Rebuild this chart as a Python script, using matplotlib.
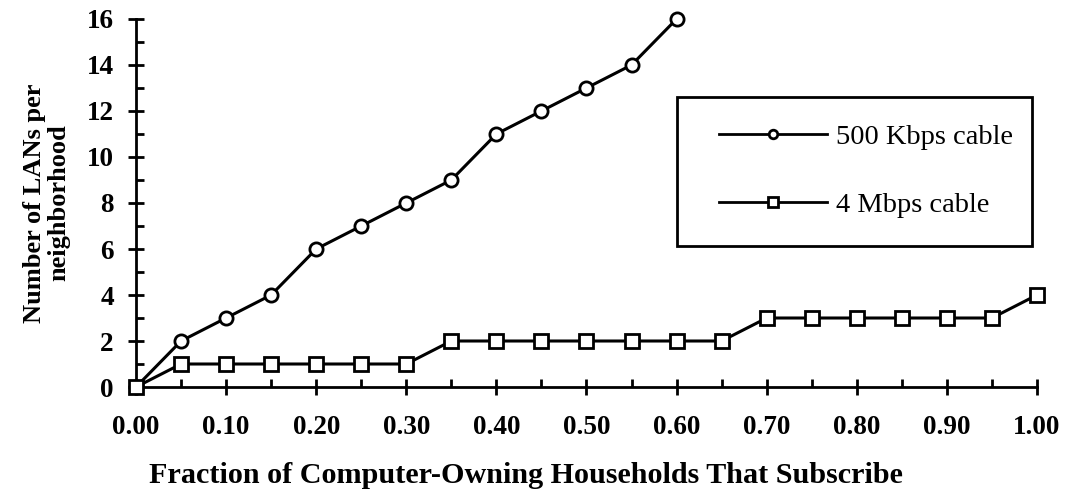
import numpy as np
import matplotlib
matplotlib.use("Agg")
from matplotlib import pyplot as plt
from matplotlib.patches import Rectangle
from matplotlib.ticker import MultipleLocator

plt.rcParams['font.family'] = ['Liberation Serif', 'DejaVu Serif']

# subscription fraction (x) and LANs needed per neighborhood
frac_500k = [0.00, 0.05, 0.10, 0.15, 0.20, 0.25, 0.30, 0.35, 0.40, 0.45, 0.50, 0.55, 0.60]
lans_500k = [0, 2, 3, 4, 6, 7, 8, 9, 11, 12, 13, 14, 16]

frac_4m = [0.00, 0.05, 0.10, 0.15, 0.20, 0.25, 0.30, 0.35, 0.40, 0.45, 0.50,
           0.55, 0.60, 0.65, 0.70, 0.75, 0.80, 0.85, 0.90, 0.95, 1.00]
lans_4m = [0, 1, 1, 1, 1, 1, 1, 2, 2, 2, 2, 2, 2, 2, 3, 3, 3, 3, 3, 3, 4]

xticks = [0.0, 0.1, 0.2, 0.3, 0.4, 0.5, 0.6, 0.7, 0.8, 0.9, 1.0]
yticks = [0, 2, 4, 6, 8, 10, 12, 14, 16]

tickSize = 19.5
xlabelSize = 21.7
ylabelSize = 19
legendSize = 20.5

fig = plt.figure(figsize=(10.65, 4.92), dpi=100)
ax = fig.add_axes([0.1277, 0.2134, 0.846, 0.748])

ax.plot(frac_500k, lans_500k, color='k', linewidth=2.2, marker='o',
        markersize=9.5, markerfacecolor='white', markeredgewidth=2.0,
        label='500 Kbps cable', clip_on=False, zorder=3)
ax.plot(frac_4m, lans_4m, color='k', linewidth=2.2, marker='s',
        markersize=10, markerfacecolor='white', markeredgewidth=2.0,
        label='4 Mbps cable', clip_on=False, zorder=3)

ax.set_xlim(0, 1.0)
ax.set_ylim(0, 16)
ax.set_xticks(xticks)
ax.set_xticklabels(['%.2f' % v for v in xticks])
ax.set_yticks(yticks)
ax.xaxis.set_minor_locator(MultipleLocator(0.05))
ax.yaxis.set_minor_locator(MultipleLocator(1))

for s in ['top', 'right']:
    ax.spines[s].set_visible(False)
for s in ['left', 'bottom']:
    ax.spines[s].set_linewidth(2.0)

ax.tick_params(which='major', direction='inout', length=12, width=2.0)
ax.tick_params(which='minor', direction='in', length=6, width=2.0)
ax.tick_params(axis='x', which='major', pad=14, labelsize=tickSize)
ax.tick_params(axis='y', which='major', pad=10, labelsize=tickSize)
for lab in ax.get_xticklabels() + ax.get_yticklabels():
    lab.set_fontweight('bold')

ax.set_xlabel('Fraction of Computer-Owning Households That Subscribe',
              fontsize=xlabelSize, fontweight='bold')
ax.xaxis.set_label_coords(0.433, -0.205)
ax.set_ylabel('Number of LANs per\nneighborhood', fontsize=ylabelSize,
              fontweight='bold', labelpad=12, linespacing=1.05)

# legend box drawn separately so the entries can sit off-centre inside it
box = Rectangle((0.600, 0.383), 0.394, 0.405, transform=ax.transAxes,
                facecolor='white', edgecolor='k', linewidth=2.0,
                clip_on=False, zorder=4)
ax.add_patch(box)
leg = ax.legend(loc='upper left', bbox_to_anchor=(0.647, 0.715),
                fontsize=legendSize, frameon=False,
                numpoints=1, handlelength=3.8, handletextpad=0.32,
                borderpad=0, labelspacing=1.5, markerscale=0.65,
                borderaxespad=0)
leg.set_zorder(5)
for h in leg.legend_handles:
    h.set_linewidth(2.0)

fig.savefig('out.png', dpi=100)
